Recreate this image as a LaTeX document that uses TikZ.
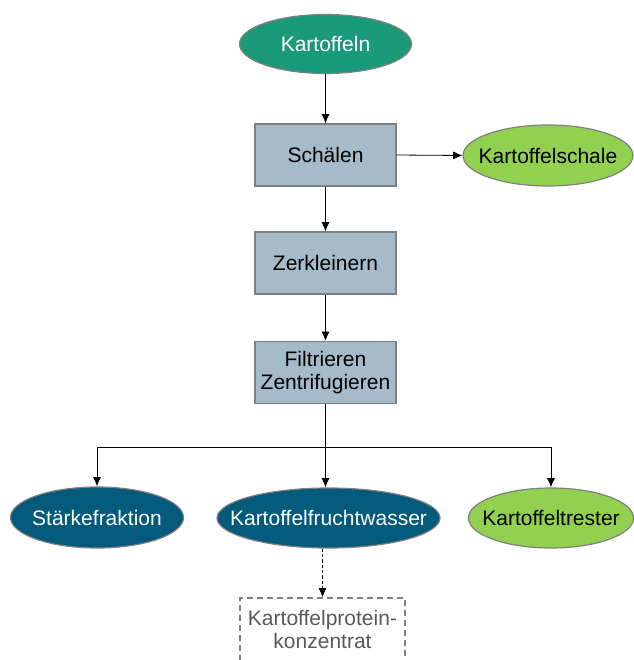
\documentclass[tikz,border=0pt]{standalone}
\usepackage{fontspec}
\setmainfont{Liberation Sans}
\usepackage{xcolor}
\usetikzlibrary{shapes.geometric,arrows.meta}

\definecolor{knollegreen}{RGB}{26,154,122}
\definecolor{schalegreen}{RGB}{146,208,80}
\definecolor{petrol}{RGB}{4,90,122}
\definecolor{stepblue}{RGB}{166,187,201}
\definecolor{rimgray}{RGB}{128,128,128}
\definecolor{textgray}{RGB}{89,89,89}

\newcommand{\nowidth}[1]{\makebox[0pt]{#1}}

\tikzset{
  every node/.style={font=\fontsize{15.75}{17.5}\selectfont},
  stepbox/.style={draw=rimgray, line width=0.9pt, fill=stepblue, minimum width=105.75pt, minimum height=46.5pt, inner sep=0pt, align=center},
  product/.style={ellipse, draw=rimgray, line width=0.9pt, inner sep=0pt, minimum height=45pt},
  flow/.style={-{Latex[length=7pt,width=6pt]}, line width=0.6pt},
}

\begin{document}
\begin{tikzpicture}[x=0.75pt,y=0.75pt,yscale=-1,xscale=1]
\useasboundingbox (0,0) rectangle (633,660);

%Shape: Ellipse [id:kartoffeln]
\node (kart) [product, fill=knollegreen, text=white, minimum width=129pt, minimum height=44.25pt] at (325.5,44) {\nowidth{Kartoffeln}};
%Shape: Rectangle [id:schaelen]
\node (schaelen) [stepbox] at (325.5,155) {Schälen};
%Shape: Ellipse [id:schale]
\node (schale) [product, fill=schalegreen, minimum width=127.5pt, minimum height=45.75pt] at (548,155.5) {\nowidth{Kartoffelschale}};
%Shape: Rectangle [id:zerkleinern]
\node (zerkl) [stepbox] at (325.5,263) {Zerkleinern};
%Shape: Rectangle [id:filtrieren]
\node (filter) [stepbox] at (325.5,372.5) {Filtrieren\\Zentrifugieren};

%Shape: Ellipse [id:staerke]
\node (staerke) [product, fill=petrol, text=white, minimum width=129.75pt, minimum height=45.75pt] at (97,517.5) {\nowidth{Stärkefraktion}};
%Shape: Ellipse [id:fruchtwasser]
\node (wasser) [product, fill=petrol, text=white, minimum width=167.25pt] at (328.5,518) {\nowidth{Kartoffelfruchtwasser}};
%Shape: Ellipse [id:trester]
\node (trester) [product, fill=schalegreen, minimum width=123.75pt] at (551,518) {\nowidth{Kartoffeltrester}};

%Shape: Rectangle [id:konzentrat]
\node (konz) [draw=rimgray, line width=0.9pt, dash pattern=on 4.5pt off 3pt, text=textgray, minimum width=123.75pt, minimum height=47.25pt, inner sep=0pt, align=center] at (322.5,629.5) {Kartoffelprotein-\\konzentrat};

%Straight Lines [id:main flow]
\draw [flow] (kart.south) -- (kart.south |- schaelen.north);
\draw [flow] (schaelen.east) -- (schale.west);
\draw [flow] (schaelen.south) -- (zerkl.north);
\draw [flow] (zerkl.south) -- (filter.north);

%Straight Lines [id:split]
\coordinate (split) at (325.5,447);
\draw [line width=0.6pt] (filter.south) -- (split);
\draw [flow] (split) -| (staerke.north);
\draw [flow] (split) -- (split |- wasser.north);
\draw [flow] (split) -| (trester.north);

%Straight Lines [id:dashed]
\draw [flow, dash pattern=on 2.5pt off 1.5pt] (konz.north |- wasser.south) -- (konz.north);

\end{tikzpicture}
\end{document}
